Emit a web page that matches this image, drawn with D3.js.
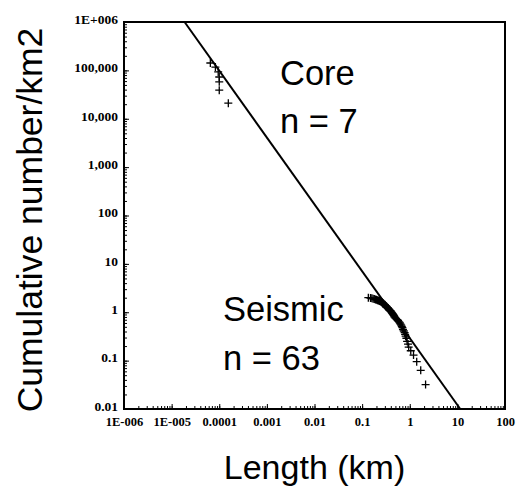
<!DOCTYPE html>
<html>
<head>
<meta charset="utf-8">
<script src="https://cdn.jsdelivr.net/npm/d3@7"></script>
<style>
  body { margin: 0; background: #fff; }
  .tickLab text { font-family: "Liberation Serif", "Times New Roman", serif; font-weight: bold; fill: #000; }
  .xLab text { font-size: 12.5px; }
  .yLab text { font-size: 13.5px; }
  .bigText { font-family: "Liberation Sans", Arial, sans-serif; fill: #000; }
</style>
</head>
<body>
<div class="chartWrap"></div>
<script>
var width = 517,
  height = 488,
  plotLeft = 124,
  plotRight = 505,
  plotTop = 22,
  plotBottom = 409;

// tick labels as printed on the original
var xTickValues = [1e-6, 1e-5, 1e-4, 1e-3, 0.01, 0.1, 1, 10, 100],
  xTickLabels = ['1E-006', '1E-005', '0.0001', '0.001', '0.01', '0.1', '1', '10', '100'],
  yTickValues = [0.01, 0.1, 1, 10, 100, 1000, 10000, 100000, 1e6],
  yTickLabels = ['0.01', '0.1', '1', '10', '100', '1,000', '10,000', '100,000', '1E+006'];

// core measurements (length km, cumulative number/km2)
var coreLength = [6.5e-5, 8.3e-5, 9.5e-5, 1.0e-4, 1.0e-4, 1.0e-4, 1.55e-4],
  coreCum = [142000, 117000, 93000, 73000, 58000, 39000, 21000];

// seismic measurements
var seismicLength = [0.135, 0.15, 0.16, 0.17, 0.18, 0.19, 0.2, 0.21, 0.22, 0.23,
  0.24, 0.25, 0.26, 0.26, 0.27, 0.28, 0.28, 0.29, 0.3, 0.3, 0.31, 0.32, 0.32, 0.33,
  0.34, 0.35, 0.36, 0.37, 0.38, 0.39, 0.4, 0.41, 0.42, 0.43, 0.44, 0.45, 0.46, 0.47, 0.48,
  0.5, 0.52, 0.55, 0.57, 0.6, 0.62, 0.64, 0.66, 0.68, 0.7,
  0.72, 0.75, 0.78, 0.8, 0.82, 0.85, 0.88, 0.92, 0.95, 1.05, 1.2, 1.4,
  1.7, 2.15],
  seismicCum = [2.00, 1.97, 1.94, 1.90, 1.87, 1.84, 1.81, 1.78, 1.75, 1.71,
  1.68, 1.65, 1.62, 1.59, 1.56, 1.52, 1.49, 1.46, 1.43, 1.40, 1.37, 1.33, 1.30, 1.27,
  1.24, 1.21, 1.17, 1.14, 1.11, 1.08, 1.05, 1.02, 0.98, 0.95, 0.92, 0.89, 0.86, 0.83, 0.79,
  0.76, 0.73, 0.70, 0.67, 0.63, 0.60, 0.57, 0.54, 0.51, 0.48,
  0.44, 0.41, 0.38, 0.35, 0.32, 0.29, 0.25, 0.22, 0.19, 0.16, 0.13, 0.095,
  0.063, 0.032];

// fitted power law, end points
var fitLength = [1.87e-5, 11.5],
  fitCum = [1e6, 0.01];

var svg = d3.select('.chartWrap')
  .append('svg')
  .attr('width', width)
  .attr('height', height);

var x = d3.scaleLog().domain([1e-6, 100]).range([plotLeft, plotRight]),
  y = d3.scaleLog().domain([0.01, 1e6]).range([plotBottom, plotTop]);

//minor ticks
svg.append('g')
  .attr('transform', 'translate(0,' + plotBottom + ')')
  .call(d3.axisBottom(x).tickValues(x.ticks()).tickSize(-3).tickFormat(''))
  .call(function(g){ g.select('.domain').remove(); });
svg.append('g')
  .attr('transform', 'translate(' + plotLeft + ',0)')
  .call(d3.axisLeft(y).tickValues(y.ticks()).tickSize(-3).tickFormat(''))
  .call(function(g){ g.select('.domain').remove(); });

//major ticks + labels
svg.append('g')
  .attr('class', 'tickLab xLab')
  .attr('transform', 'translate(0,' + plotBottom + ')')
  .call(d3.axisBottom(x).tickValues(xTickValues).tickSize(-5).tickPadding(8)
    .tickFormat(function(d, i){ return xTickLabels[i]; }))
  .call(function(g){ g.select('.domain').remove(); });
svg.append('g')
  .attr('class', 'tickLab yLab')
  .attr('transform', 'translate(' + plotLeft + ',0)')
  .call(d3.axisLeft(y).tickValues(yTickValues).tickSize(-5).tickPadding(6)
    .tickFormat(function(d, i){ return yTickLabels[i]; }))
  .call(function(g){
    g.select('.domain').remove();
    g.selectAll('text').attr('dy', '0.1em');
  });

svg.selectAll('.tick line').attr('stroke', '#000').attr('stroke-width', 1);

//frame
svg.append('rect')
  .attr('x', plotLeft)
  .attr('y', plotTop)
  .attr('width', plotRight - plotLeft)
  .attr('height', plotBottom - plotTop)
  .style('fill', 'none')
  .style('stroke', '#000')
  .style('stroke-width', 2);

//fit line
svg.append('line')
  .attr('x1', x(fitLength[0]))
  .attr('y1', y(fitCum[0]))
  .attr('x2', x(fitLength[1]))
  .attr('y2', y(fitCum[1]))
  .style('stroke', '#000')
  .style('stroke-width', 2);

//crosses
var pts = coreLength.map(function(d, i){ return [d, coreCum[i]]; })
  .concat(seismicLength.map(function(d, i){ return [d, seismicCum[i]]; }));

svg.selectAll('path.cross')
  .data(pts)
  .enter()
    .append('path')
    .attr('class', 'cross')
    .attr('d', function(d){
      var cx = x(d[0]), cy = y(d[1]), s = 4;
      return 'M' + (cx - s) + ',' + cy + 'H' + (cx + s) + 'M' + cx + ',' + (cy - s) + 'V' + (cy + s);
    })
    .style('stroke', '#000')
    .style('stroke-width', 1.3)
    .style('fill', 'none');

//annotations
var notes = [
  {'t':'Core', 'x':280, 'y':85},
  {'t':'n = 7', 'x':280, 'y':133},
  {'t':'Seismic', 'x':223, 'y':321},
  {'t':'n = 63', 'x':223, 'y':370}
];
svg.selectAll('.note')
  .data(notes)
  .enter()
    .append('text')
    .attr('class', 'note bigText')
    .attr('x', function(d){ return d.x; })
    .attr('y', function(d){ return d.y; })
    .style('font-size', '34.5px')
    .text(function(d){ return d.t; });

//axis titles
svg.append('text')
  .attr('class', 'bigText')
  .attr('x', (plotLeft + plotRight) / 2)
  .attr('y', 479)
  .attr('text-anchor', 'middle')
  .style('font-size', '34px')
  .text('Length (km)');

svg.append('text')
  .attr('class', 'bigText')
  .attr('transform', 'translate(42,220) rotate(-90)')
  .attr('text-anchor', 'middle')
  .style('font-size', '35.5px')
  .text('Cumulative number/km2');
</script>
</body>
</html>
